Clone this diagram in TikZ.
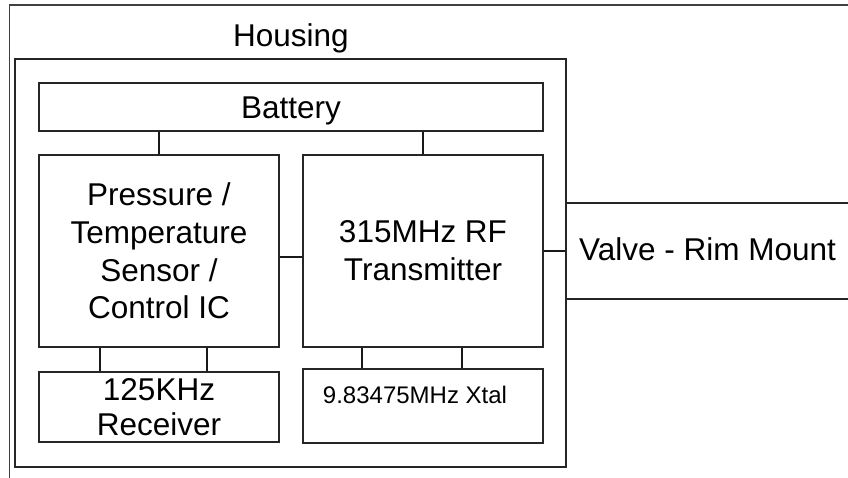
\documentclass[tikz,border=0pt]{standalone}
\usepackage{fontspec}
\setmainfont{Liberation Sans}
\begin{document}
\begin{tikzpicture}[x=1pt,y=-1pt,
  box/.style={draw=black!85,line width=1.3pt,rectangle,inner sep=0pt,anchor=center},
  big/.style={font=\fontsize{31.5}{37.7}\selectfont,align=center},
  small/.style={font=\fontsize{24}{28}\selectfont},
  wire/.style={draw=black!90,line width=1.3pt}]
\useasboundingbox (0,0) rectangle (848,477);
\clip (0,0) rectangle (848,477);
% outer frame
\draw[line width=1.3pt,draw=black!75] (9.5,490) -- (9.5,5) -- (870,5);
% housing
\node[box,minimum width=551pt,minimum height=408pt] (housing) at (290.5,263) {};
\node[big,anchor=base,inner sep=0pt] (hlabel) at (291,46) {Housing};
% blocks
\node[box,minimum width=504pt,minimum height=48pt] (battery) at (291,107) {};
\node[big,anchor=base,inner sep=0pt] (btext) at (291,118) {Battery};
\node[box,minimum width=240pt,minimum height=192pt,big] (pressure) at (159,251) {Pressure /\\Temperature\\Sensor /\\Control IC};
\node[box,minimum width=240pt,minimum height=192pt,big] (rf) at (423,251) {315MHz RF\\Transmitter};
\node[box,minimum width=240pt,minimum height=70pt,font=\fontsize{31.5}{35}\selectfont,align=center] (receiver) at (159,407) {125KHz\\Receiver};
\node[box,minimum width=240pt,minimum height=74pt] (xtal) at (423,406) {};
\node[small,anchor=base,inner sep=0pt] (xtext) at (415,403) {9.83475MHz Xtal};
\node[box,minimum width=320pt,minimum height=96pt] (valve) at (726,251) {};
\node[big,anchor=base west,inner sep=0pt] (vtext) at (579,260) {Valve - Rim Mount};
% connectors
\draw[wire] (pressure.north) -- (pressure.north |- battery.south);
\draw[wire] (rf.north) -- (rf.north |- battery.south);
\coordinate (pr) at ([yshift=-6pt]pressure.east);
\draw[wire] (pr) -- (pr -| rf.west);
\draw[wire] (rf.east) -- (rf.east -| valve.west);
\coordinate (r1) at ([xshift=-59pt]pressure.south);
\coordinate (r2) at ([xshift=48pt]pressure.south);
\draw[wire] (r1) -- (r1 |- receiver.north);
\draw[wire] (r2) -- (r2 |- receiver.north);
\coordinate (x1) at ([xshift=-61pt]rf.south);
\coordinate (x2) at ([xshift=39pt]rf.south);
\draw[wire] (x1) -- (x1 |- xtal.north);
\draw[wire] (x2) -- (x2 |- xtal.north);
\end{tikzpicture}
\end{document}
